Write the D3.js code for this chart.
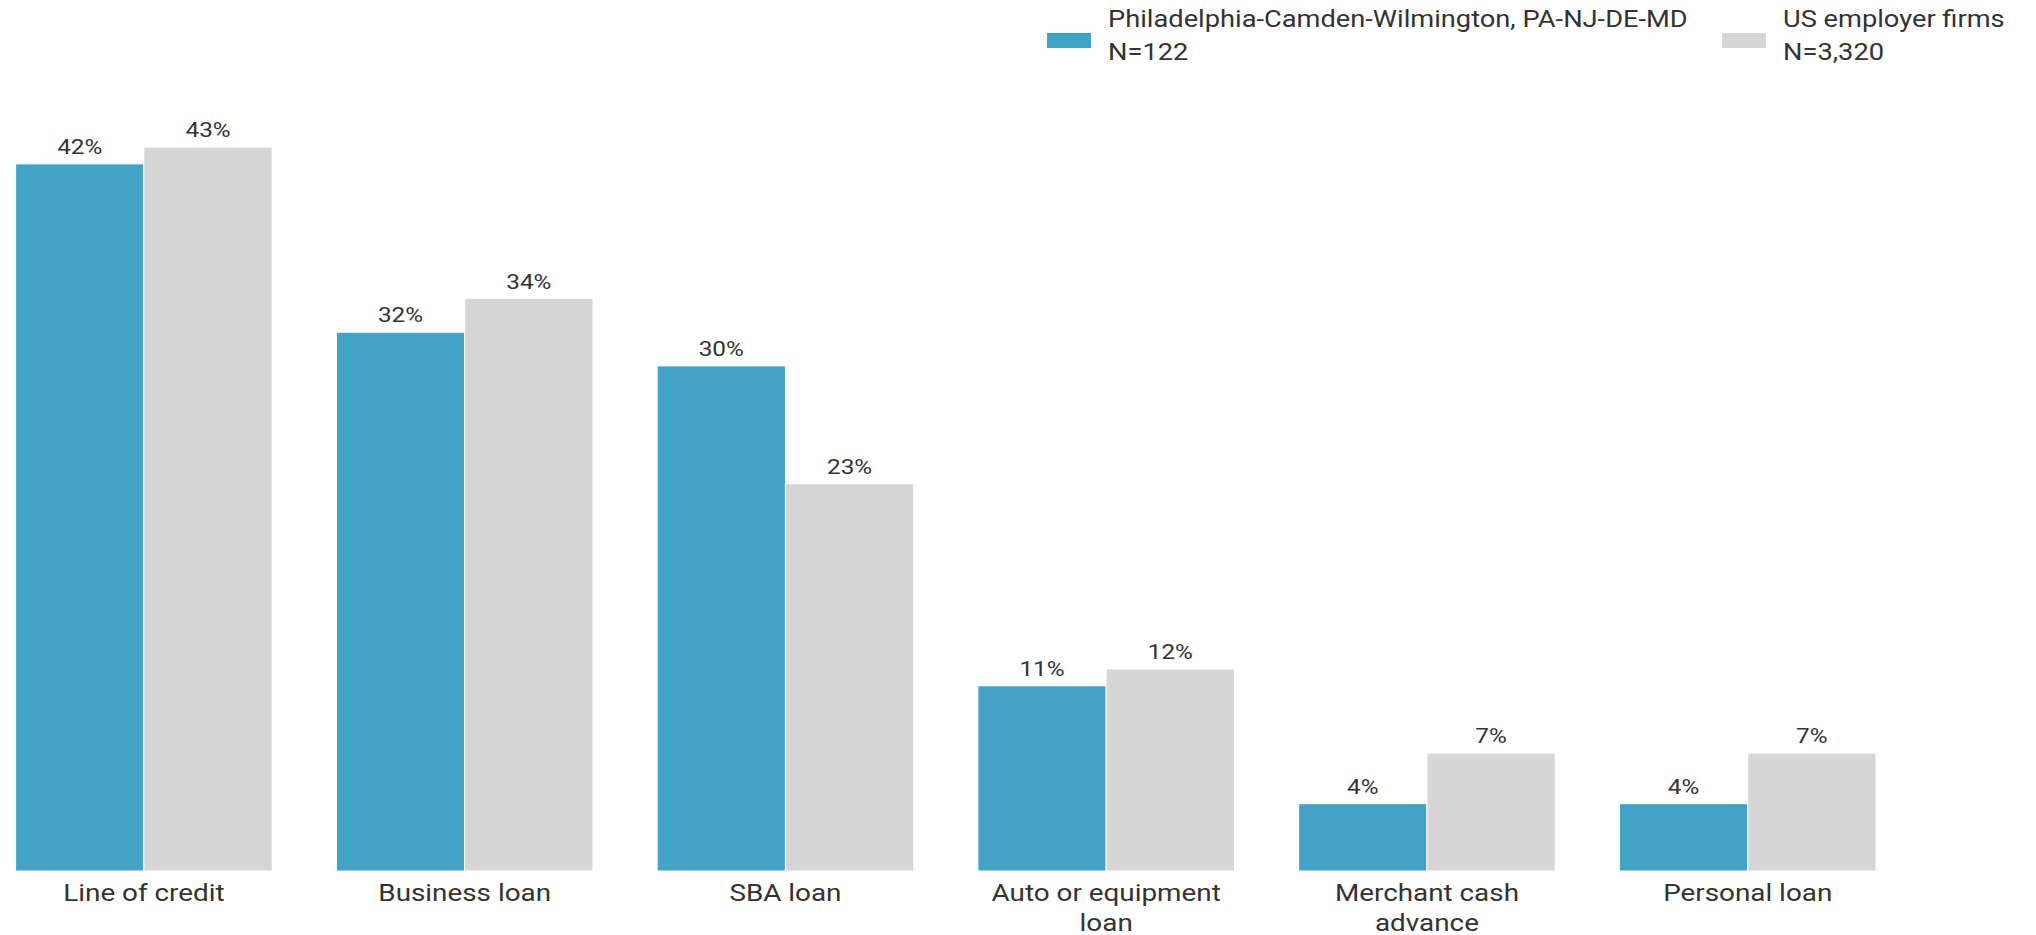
<!DOCTYPE html>
<html>
<head>
<meta charset="utf-8">
<script src="https://cdn.jsdelivr.net/npm/d3@7"></script>
<style>
  body { margin: 0; background: #fff; }
  text { font-family: Roboto, "Noto Sans", sans-serif; fill: #333; }
</style>
</head>
<body>
<div id="chart"></div>
<script>
'use strict'

const categories = [['Line of credit'], ['Business loan'], ['SBA loan'],
                    ['Auto or equipment', 'loan'], ['Merchant cash', 'advance'], ['Personal loan']];
const seriesNames = [['Philadelphia-Camden-Wilmington, PA-NJ-DE-MD', 'N=122'], ['US employer firms', 'N=3,320']];
const phillyValues = [42, 32, 30, 11, 4, 4];
const usValues = [43, 34, 23, 12, 7, 7];
const colors = ['#43a3c7', '#d6d6d6'];

const width = 2036, height = 935;
const baseY = 871;
const stretch = 1.16; // text in the original is drawn a bit wide

const svg = d3.select('#chart').append('svg')
    .attr('width', width)
    .attr('height', height);

const x0 = d3.scaleBand()
    .domain(d3.range(categories.length))
    .range([15.6, 1876])
    .paddingInner(0.2)
    .paddingOuter(0);

const x1 = d3.scaleBand()
    .domain([0, 1])
    .range([0, x0.bandwidth()]);

const y = d3.scaleLinear()
    .domain([0, 43])
    .range([baseY, 147]);

const rows = categories.map((c, i) => [phillyValues[i], usValues[i]]);

const group = svg.selectAll('.group')
    .data(rows)
    .enter().append('g')
    .attr('class', 'group')
    .attr('transform', (d, i) => 'translate(' + x0(i) + ',0)');

group.selectAll('rect')
    .data(d => d)
    .enter().append('rect')
    .attr('x', (d, j) => x1(j))
    .attr('y', d => y(d))
    .attr('width', x1.bandwidth())
    .attr('height', d => baseY - y(d))
    .style('fill', (d, j) => colors[j])
    .style('stroke', '#fff')
    .style('stroke-width', 1);

group.selectAll('.val')
    .data(d => d)
    .enter().append('text')
    .attr('class', 'val')
    .attr('transform', (d, j) => 'translate(' + (x1(j) + x1.bandwidth() / 2) + ',' + (y(d) - 10) + ') scale(' + stretch + ',1)')
    .attr('text-anchor', 'middle')
    .style('font-size', '21px')
    .text(d => d + '%');

// category labels
svg.selectAll('.cat')
    .data(categories)
    .enter().append('text')
    .attr('class', 'cat')
    .attr('transform', (d, i) => 'translate(' + (x0(i) + x0.bandwidth() / 2) + ',901) scale(' + stretch + ',1)')
    .attr('text-anchor', 'middle')
    .style('font-size', '24px')
    .selectAll('tspan')
    .data(d => d)
    .enter().append('tspan')
    .attr('x', 0)
    .attr('dy', (d, k) => k === 0 ? 0 : 30)
    .text(d => d);

// legend
const legendX = [1047, 1722];
const legend = svg.selectAll('.legend')
    .data(seriesNames)
    .enter().append('g')
    .attr('class', 'legend')
    .attr('transform', (d, i) => 'translate(' + legendX[i] + ',0)');

legend.append('rect')
    .attr('x', 0)
    .attr('y', 33)
    .attr('width', 44)
    .attr('height', 15)
    .style('fill', (d, i) => colors[i]);

legend.append('text')
    .attr('transform', 'translate(61,27) scale(' + stretch + ',1)')
    .style('font-size', '23.5px')
    .selectAll('tspan')
    .data(d => d)
    .enter().append('tspan')
    .attr('x', 0)
    .attr('dy', (d, k) => k === 0 ? 0 : 33)
    .text(d => d);
</script>
</body>
</html>
